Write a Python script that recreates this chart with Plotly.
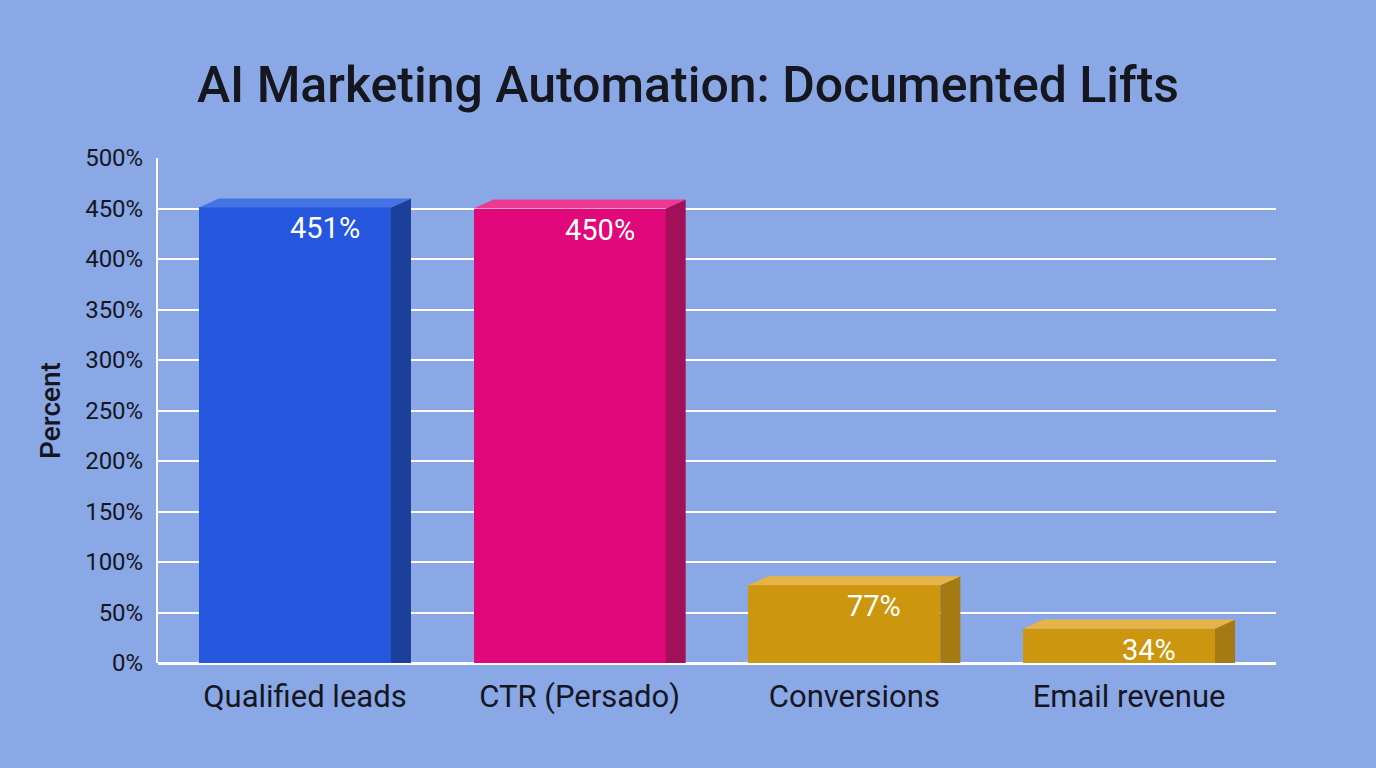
import plotly.graph_objects as go

categories = ["Qualified leads", "CTR (Persado)", "Conversions", "Email revenue"]
values = [451, 450, 77, 34]
labels = ["451%", "450%", "77%", "34%"]
front_colors = ["#2457dd", "#e0087a", "#cc960f", "#cc960f"]
side_colors = ["#1d3f9c", "#a3105a", "#a67a12", "#a67a12"]
top_colors = ["#4474e4", "#ec3a90", "#e6b446", "#e6b446"]
y_ticks = [0, 50, 100, 150, 200, 250, 300, 350, 400, 450, 500]
y_tick_text = [f"{t}%" for t in y_ticks]

BG = "#8aa8e6"
bar_left = -0.386
bar_w = 0.699
depth_x = 0.073
depth_y = 9.0

xs = list(range(len(categories)))

fig = go.Figure()
fig.add_trace(go.Bar(
    x=xs, y=values, width=bar_w, offset=bar_left,
    marker=dict(color=front_colors, line=dict(width=0)),
    hoverinfo="skip", showlegend=False,
))

shapes = []
for i, v in enumerate(values):
    x0 = i + bar_left
    x1 = x0 + bar_w
    shapes.append(dict(
        type="path", layer="above", line=dict(width=0), fillcolor=side_colors[i],
        path=f"M {x1},0 L {x1 + depth_x},0 L {x1 + depth_x},{v + depth_y} L {x1},{v} Z",
    ))
    shapes.append(dict(
        type="path", layer="above", line=dict(width=0), fillcolor=top_colors[i],
        path=f"M {x0},{v} L {x0 + depth_x},{v + depth_y} L {x1 + depth_x},{v + depth_y} L {x1},{v} Z",
    ))

annotations = []
for i, v in enumerate(values):
    annotations.append(dict(
        x=i + bar_left + bar_w / 2, y=v, xref="x", yref="y",
        text=labels[i], showarrow=False, xshift=30, yshift=-21,
        font=dict(family="Roboto", size=29, color="white"),
    ))

fig.update_layout(
    width=1376, height=768,
    paper_bgcolor=BG, plot_bgcolor=BG,
    margin=dict(l=158, r=100, t=158, b=105),
    title=dict(
        text="AI Marketing Automation: Documented Lifts",
        x=0.5, xanchor="center", y=0.89, yanchor="middle",
        font=dict(family="Roboto", size=50, color="#16161f", weight=500),
    ),
    xaxis=dict(
        range=[-0.535, 3.535], tickvals=xs, ticktext=categories,
        showgrid=False, zeroline=False, showline=False, ticks="",
        tickfont=dict(family="Roboto", size=31, color="#16161f"),
        ticklabelstandoff=12,
    ),
    yaxis=dict(
        range=[0, 500], tickvals=y_ticks, ticktext=y_tick_text,
        showgrid=True, gridcolor="white", gridwidth=1.5,
        zeroline=True, zerolinecolor="white", zerolinewidth=3,
        showline=True, linecolor="white", linewidth=2,
        ticks="", tickfont=dict(family="Roboto", size=24, color="#16161f"),
        ticklabelstandoff=8,
        title=dict(text="Percent", standoff=16,
                   font=dict(family="Roboto", size=28, color="#16161f", weight=500)),
    ),
    shapes=shapes,
    annotations=annotations,
    bargap=0,
)

fig.write_html("out.html")
